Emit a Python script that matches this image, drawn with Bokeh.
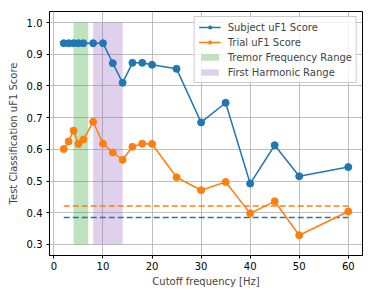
from bokeh.plotting import figure
from bokeh.models import Range1d, FixedTicker, Legend, LegendItem, NumeralTickFormatter
from bokeh.embed import file_html
from bokeh.resources import INLINE

freq = [2, 3, 4, 5, 6, 8, 10, 12, 14, 16, 18, 20, 25, 30, 35, 40, 45, 50, 60]
subject_f1 = [0.935, 0.935, 0.935, 0.935, 0.935, 0.935, 0.935, 0.872, 0.810, 0.873, 0.873, 0.867,
              0.854, 0.685, 0.747, 0.492, 0.613, 0.515, 0.544]
trial_f1 = [0.601, 0.625, 0.659, 0.617, 0.631, 0.687, 0.618, 0.590, 0.567, 0.608, 0.618, 0.617,
            0.512, 0.471, 0.497, 0.398, 0.436, 0.329, 0.404]
subject_baseline = 0.385
trial_baseline = 0.421
tremor_range = [4, 7]
harmonic_range = [8, 14]
band_y = [0.3, 1.0]
x_ticks = [0, 10, 20, 30, 40, 50, 60]
y_ticks = [0.3, 0.4, 0.5, 0.6, 0.7, 0.8, 0.9, 1.0]

BLUE = "#1f77b4"
ORANGE = "#ff7f0e"
GREEN = "#2ca02c"
PURPLE = "#9467bd"
FONT = "DejaVu Sans"

p = figure(width=370, height=295, output_backend="svg", toolbar_location=None,
           x_range=Range1d(-0.9, 62.9), y_range=Range1d(0.265, 1.035),
           min_border_left=49, min_border_right=8, min_border_top=11, min_border_bottom=40)

# bands
green = p.quad(left=[tremor_range[0]], right=[tremor_range[1]], bottom=[band_y[0]], top=[band_y[1]],
               fill_color=GREEN, fill_alpha=0.3, line_color=None)
purple = p.quad(left=[harmonic_range[0]], right=[harmonic_range[1]], bottom=[band_y[0]], top=[band_y[1]],
                fill_color=PURPLE, fill_alpha=0.3, line_color=None)

# baselines
p.line([freq[0], freq[-1]], [trial_baseline, trial_baseline], line_color=ORANGE, line_dash="6 3", line_width=1.5)
p.line([freq[0], freq[-1]], [subject_baseline, subject_baseline], line_color=BLUE, line_dash="6 3", line_width=1.5)

s_line = p.line(freq, subject_f1, line_color=BLUE, line_width=1.5)
s_pts = p.scatter(freq, subject_f1, size=7, fill_color=BLUE, line_color=BLUE)
t_line = p.line(freq, trial_f1, line_color=ORANGE, line_width=1.5)
t_pts = p.scatter(freq, trial_f1, size=7, fill_color=ORANGE, line_color=ORANGE)

legend = Legend(items=[
    LegendItem(label="Subject uF1 Score", renderers=[s_line, s_pts]),
    LegendItem(label="Trial uF1 Score", renderers=[t_line, t_pts]),
    LegendItem(label="Tremor Frequency Range", renderers=[green]),
    LegendItem(label="First Harmonic Range", renderers=[purple]),
], location="top_right")
legend.label_text_font = FONT
legend.label_text_font_size = "10px"
legend.label_height = 12
legend.glyph_height = 8
legend.glyph_width = 22
legend.spacing = 3
legend.padding = 4
legend.margin = 5
legend.border_line_color = "#cccccc"
legend.border_line_alpha = 1
legend.background_fill_alpha = 0.8
legend.label_standoff = 7
p.add_layout(legend)

p.xaxis.ticker = FixedTicker(ticks=x_ticks)
p.yaxis.ticker = FixedTicker(ticks=y_ticks)
p.yaxis.formatter = NumeralTickFormatter(format="0.0")
p.xaxis.axis_label = "Cutoff frequency [Hz]"
p.yaxis.axis_label = "Test Classification uF1 Score"
for ax in (p.xaxis[0], p.yaxis[0]):
    ax.axis_label_text_font = FONT
    ax.axis_label_text_font_size = "10px"
    ax.axis_label_text_font_style = "normal"
    ax.major_label_text_font = FONT
    ax.major_label_text_font_size = "10px"
    ax.major_label_text_color = "black"
    ax.axis_line_color = "black"
    ax.major_tick_line_color = "black"
    ax.major_tick_out = 3
    ax.major_tick_in = 0
    ax.minor_tick_line_color = None
p.xaxis.major_label_standoff = 3
p.xaxis.axis_label_standoff = 3
p.yaxis.major_label_standoff = 4
p.yaxis.axis_label_standoff = 5

p.grid.grid_line_color = "#b0b0b0"
p.grid.grid_line_alpha = 1
p.grid.grid_line_width = 0.8
p.outline_line_color = "black"
p.outline_line_alpha = 1
p.background_fill_color = "white"

open("out.html", "w").write(file_html(p, INLINE))
